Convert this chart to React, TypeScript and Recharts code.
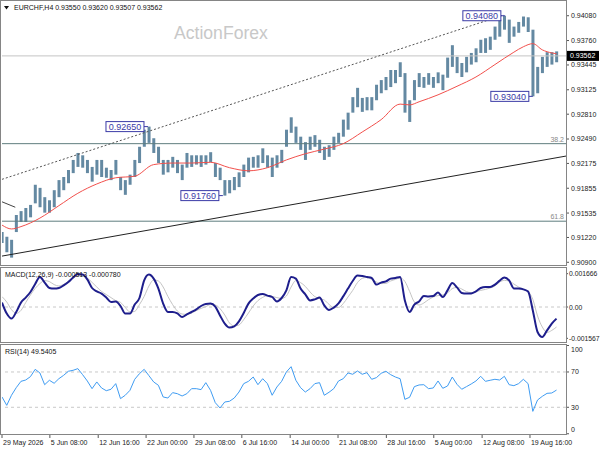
import { ComposedChart, Bar, Line, XAxis, YAxis, ReferenceLine, ReferenceDot } from "recharts";

const FONT = "'Liberation Sans', Arial, sans-serif";

// EURCHF H4, sampled about every 4-5 bars (high / low of each sample)
const priceHigh = [
  0.9129, 0.9123, 0.9119, 0.9151, 0.9156, 0.916, 0.9164, 0.919, 0.9186, 0.9174,
  0.917, 0.9183, 0.9196, 0.92, 0.9209, 0.9222, 0.9231, 0.9228, 0.9222, 0.9213,
  0.9222, 0.9222, 0.9212, 0.9209, 0.9222, 0.92, 0.9196, 0.9203, 0.9222, 0.9239,
  0.9261, 0.9265, 0.925, 0.9239, 0.9222, 0.9222, 0.9226, 0.9222, 0.9216, 0.9231,
  0.9228, 0.9228, 0.9228, 0.9228, 0.9232, 0.9218, 0.9212, 0.9196, 0.9196, 0.92,
  0.9206, 0.9216, 0.9225, 0.9226, 0.9228, 0.9237, 0.9228, 0.9225, 0.9228, 0.9235,
  0.9261, 0.9277, 0.9265, 0.9252, 0.9245, 0.9252, 0.9254, 0.9248, 0.9239, 0.9241,
  0.9252, 0.9257, 0.9274, 0.9283, 0.9303, 0.9315, 0.9302, 0.9303, 0.9303, 0.9319,
  0.9325, 0.9329, 0.9338, 0.9338, 0.9348, 0.9334, 0.9299, 0.9325, 0.9334, 0.9329,
  0.9334, 0.9329, 0.9335, 0.9332, 0.9354, 0.937, 0.9355, 0.9347, 0.9355, 0.936,
  0.9366, 0.9377, 0.9379, 0.9381, 0.9394, 0.9403, 0.9408, 0.9403, 0.9394, 0.94,
  0.9407, 0.9406, 0.939, 0.9342, 0.9355, 0.9361, 0.9361, 0.9362,
];
const priceLow = [
  0.9115, 0.9103, 0.9096, 0.9129, 0.9142, 0.9142, 0.9148, 0.9166, 0.9161, 0.9154,
  0.9154, 0.9161, 0.9174, 0.9183, 0.9192, 0.9205, 0.9213, 0.9212, 0.9205, 0.9194,
  0.9203, 0.92, 0.9199, 0.9196, 0.9203, 0.9183, 0.9177, 0.919, 0.92, 0.9218,
  0.9239, 0.9244, 0.9231, 0.9218, 0.9203, 0.9206, 0.9212, 0.9205, 0.9196, 0.9212,
  0.9213, 0.9216, 0.9213, 0.9216, 0.9219, 0.92, 0.9196, 0.9176, 0.9179, 0.9183,
  0.9187, 0.92, 0.9206, 0.9212, 0.9212, 0.9218, 0.9212, 0.92, 0.9212, 0.9218,
  0.9239, 0.9257, 0.9244, 0.9235, 0.9222, 0.9235, 0.9239, 0.9231, 0.9222, 0.9226,
  0.9235, 0.9244, 0.9252, 0.9261, 0.9283, 0.929, 0.9284, 0.9286, 0.9286, 0.9299,
  0.9308, 0.9312, 0.9316, 0.9321, 0.9329, 0.9283, 0.9271, 0.9299, 0.9316, 0.9315,
  0.9319, 0.9315, 0.9321, 0.9312, 0.9328, 0.9342, 0.9334, 0.9329, 0.9335, 0.9345,
  0.9348, 0.936, 0.936, 0.9364, 0.9377, 0.9381, 0.939, 0.9373, 0.9381, 0.9386,
  0.9394, 0.9387, 0.9304, 0.9308, 0.9334, 0.9342, 0.9345, 0.9348,
];

// red moving average, read at some of the samples
const maIndex = [0, 2, 4, 8, 12, 16, 20, 24, 28, 32, 36, 40, 44, 48, 52, 56, 60, 64, 68, 72, 76, 80, 84, 86, 88, 92, 96, 100, 104, 108, 110, 112, 114, 116, 117];
const maValue = [
  0.9138, 0.9133, 0.9136, 0.9147, 0.9163, 0.9179, 0.9191, 0.9199, 0.9201, 0.9216,
  0.9218, 0.9218, 0.9219, 0.9212, 0.9208, 0.9212, 0.9222, 0.923, 0.9236, 0.9243,
  0.9258, 0.9274, 0.9294, 0.9293, 0.9297, 0.9306, 0.9317, 0.9329, 0.9345, 0.9361,
  0.9368, 0.9372, 0.9364, 0.936, 0.9359,
];

const macdLine = [
  0.00022, -0.00033, -0.00058, -0.00025, 0.00022, 0.00047, 0.00075, 0.00115, 0.0015, 0.00122,
  0.00095, 0.00092, 0.00095, 0.00108, 0.00125, 0.00147, 0.00165, 0.00163, 0.00138, 0.00095,
  0.00078, 0.00067, 0.00047, 0.00025, 0.00027, 0.00005, -0.00033, -0.00033, 0.00012, 0.00045,
  0.00133, 0.00162, 0.00142, 0.00092, 0.00017, -0.00025, -0.00025, -0.00032, -0.0005, -0.00037,
  -0.00025, -0.00012, 0.00005, 0.00015, 0.00017, 0.00002, -0.00042, -0.00083, -0.00103, -0.00097,
  -0.00072, -0.0003, 0.00017, 0.00042, 0.0006, 0.00065, 0.00057, 0.0005, 0.00028, 0.00045,
  0.00083, 0.0015, 0.00142, 0.00092, 0.00063, 0.00033, 0.00038, 0.00047, 0.00008, -0.00015,
  -0.00003, 0.00018, 0.00053, 0.00092, 0.0013, 0.00157, 0.00155, 0.0015, 0.00145, 0.00112,
  0.00122, 0.00128, 0.00142, 0.00145, 0.0015, 0.00033, -0.00025, 0.00012, 0.00028, 0.00055,
  0.00053, 0.00055, 0.00072, 0.0005, 0.00083, 0.0012, 0.00098, 0.0007, 0.00067, 0.00068,
  0.00078, 0.00095, 0.001, 0.001, 0.00112, 0.00132, 0.00148, 0.00133, 0.00093, 0.00092,
  0.00088, 0.00077, -0.00017, -0.00125, -0.0015, -0.00117, -0.00083, -0.00058,
];
const signalLine = [
  0.00052, 0.00025, -0.00013, -0.00032, -0.00017, 0.00022, 0.0006, 0.00093, 0.00117, 0.00132,
  0.00127, 0.00112, 0.00105, 0.00113, 0.00128, 0.00143, 0.00157, 0.00158, 0.00145, 0.00123,
  0.001, 0.00078, 0.00062, 0.00047, 0.00032, 0.00023, -0.00002, -0.00025, -0.00022, 0.00012,
  0.00053, 0.00105, 0.00135, 0.0013, 0.001, 0.00053, 0.00012, -0.0002, -0.00035, -0.00037,
  -0.0003, -0.00018, -0.00007, 0.00002, 0.00012, 0.0001, -0.00008, -0.0004, -0.0008, -0.00095,
  -0.0009, -0.00063, -0.0003, 0.00005, 0.00032, 0.00048, 0.00057, 0.00053, 0.00047, 0.00043,
  0.00055, 0.001, 0.00132, 0.00122, 0.00103, 0.00075, 0.00052, 0.00042, 0.00035, 0.00013,
  -0.00002, -0.00002, 0.00017, 0.0005, 0.00083, 0.00122, 0.00143, 0.00148, 0.00138, 0.00125,
  0.00117, 0.00118, 0.0013, 0.00138, 0.00145, 0.00128, 0.00078, 0.00025, 0.0001, 0.0002,
  0.00037, 0.0005, 0.00057, 0.0006, 0.0007, 0.00092, 0.00098, 0.0009, 0.00077, 0.00072,
  0.00077, 0.00083, 0.00088, 0.00095, 0.00105, 0.00125, 0.00133, 0.0013, 0.00115, 0.001,
  0.00088, 0.00077, 0.00038, -0.00045, -0.001, -0.00127, -0.00117, -0.001,
];
const rsiLine = [
  41.7, 32.2, 43.6, 52.2, 59.4, 60.9, 64.7, 73.0, 68.9, 55.6,
  60.6, 57.2, 62.4, 66.2, 70.8, 71.9, 73.8, 67.0, 59.8, 51.1,
  58.7, 51.9, 48.8, 50.4, 56.8, 39.8, 43.6, 49.2, 61.7, 68.1,
  73.0, 65.8, 58.7, 54.9, 41.7, 40.5, 46.6, 45.4, 42.8, 45.4,
  51.1, 51.1, 50.0, 57.9, 49.2, 35.2, 29.2, 36.0, 36.8, 40.5,
  47.3, 56.8, 59.4, 64.3, 55.6, 62.4, 56.8, 43.6, 53.0, 59.4,
  70.0, 76.0, 60.6, 52.2, 47.3, 51.1, 56.8, 57.9, 43.6, 47.0,
  51.1, 59.8, 62.4, 68.9, 67.4, 71.1, 67.4, 69.2, 61.7, 63.6,
  68.5, 70.8, 67.0, 64.3, 62.4, 39.0, 41.3, 53.4, 55.3, 55.6,
  51.1, 51.9, 59.8, 51.5, 54.1, 64.3, 56.0, 50.4, 53.4, 56.4,
  59.8, 65.1, 59.4, 60.6, 61.7, 60.9, 65.1, 55.6, 54.5, 56.8,
  61.7, 56.8, 25.4, 38.3, 42.4, 45.8, 46.2, 49.5,
];

const timeTicks = [0, 10.1, 20.3, 30.4, 40.5, 50.6, 60.8, 70.9, 81.1, 91.1, 101.3, 111.4];
const timeLabels = [
  "29 May 2026", "5 Jun 08:00", "12 Jun 16:00", "22 Jun 00:00", "29 Jun 08:00", "6 Jul 16:00",
  "14 Jul 00:00", "21 Jul 08:00", "28 Jul 16:00", "5 Aug 00:00", "12 Aug 08:00", "19 Aug 16:00",
];
const priceTicks = [0.9408, 0.9376, 0.93445, 0.93125, 0.9281, 0.9249, 0.92175, 0.91855, 0.91535, 0.9122, 0.909];
const macdTicks = [0.001666, 0, -0.001567];
const macdTickLabels = ["0.001666", "0.00", "-0.001567"];
const rsiTicks = [100, 70, 30, 0];
const rsiLevels = [70, 30];

const lastPrice = 0.93562;
const fibLevels = [
  { name: "38.2", price: 0.9243 },
  { name: "61.8", price: 0.9143 },
];
const swingTags = [
  { i: 30.8, price: 0.9265 },
  { i: 46.6, price: 0.9176 },
  { i: 106.1, price: 0.9408 },
  { i: 112.0, price: 0.9304 },
];
const channelTop = [{ x: 0, y: 0.9197 }, { x: 105.9, y: 0.9409 }];
const trendBottom = [{ x: 0, y: 0.9098 }, { x: 119, y: 0.9227 }];
const oldTrend = [{ x: 0, y: 0.9168 }, { x: 2.8, y: 0.9161 }];

const maAt = new Map(maIndex.map((k, n) => [k, maValue[n]]));
const rows = priceHigh.map((hi, i) => ({
  i,
  hi,
  lo: priceLow[i],
  ma: maAt.has(i) ? maAt.get(i) : null,
  macd: macdLine[i],
  signal: signalLine[i],
  rsi: rsiLine[i],
}));

const X_DOMAIN = [0, 119];
const axisTick = { fontSize: 7, fill: "#222", fontFamily: FONT };
const TAG = "#3a3aa6";

function PriceTag(props: any) {
  const { cx, cy, text } = props;
  const w = 38;
  const right = cx - 4;
  return (
    <g>
      <line x1={right} y1={cy} x2={cx} y2={cy} stroke={TAG} strokeWidth={1} />
      <rect x={right - w} y={cy - 5} width={w} height={10} fill="#fff" stroke={TAG} strokeWidth={1} />
      <text x={right - w / 2} y={cy + 3.3} textAnchor="middle" fontSize={9} fill={TAG} fontFamily={FONT}>
        {text}
      </text>
    </g>
  );
}

function CurrentTag(props: any) {
  const vb = props.viewBox;
  if (!vb) return null;
  const x = vb.x + vb.width + 1;
  return (
    <g>
      <rect x={x} y={vb.y - 5} width={32} height={10} fill="#000" />
      <text x={x + 3} y={vb.y + 2.6} fontSize={7} fill="#fff" fontFamily={FONT}>
        {lastPrice.toFixed(5)}
      </text>
    </g>
  );
}

function fibLabel(name: string) {
  return (props: any) => {
    const vb = props.viewBox;
    if (!vb) return null;
    return (
      <text x={vb.x + vb.width - 2} y={vb.y - 2} textAnchor="end" fontSize={7} fill="#888" fontFamily={FONT}>
        {name}
      </text>
    );
  };
}

function TimeTick(props: any) {
  const { x, y, payload } = props;
  const k = timeTicks.indexOf(payload.value);
  return (
    <text x={x + 1} y={y + 4.5} fontSize={7} fill="#222" fontFamily={FONT}>
      {timeLabels[k]}
    </text>
  );
}

function MacdTick(props: any) {
  const { x, y, payload } = props;
  const k = macdTicks.indexOf(payload.value);
  return (
    <text x={x - 1} y={y + 2.5} fontSize={6.8} fill="#222" fontFamily={FONT}>
      {macdTickLabels[k]}
    </text>
  );
}

// edge labels of the RSI scale are kept inside the panel, as on the terminal
function RsiTick(props: any) {
  const { x, y, payload } = props;
  const shift = payload.value === 100 ? 3.5 : payload.value === 0 ? -4 : 0;
  return (
    <text x={x} y={y + 2.5 + shift} fontSize={7} fill="#222" fontFamily={FONT}>
      {payload.value}
    </text>
  );
}

const frame = (top: number, height: number) => ({
  position: "absolute" as const,
  left: 0,
  top,
  width: 567,
  height,
  boxSizing: "border-box" as const,
  border: "1px solid #858585",
  pointerEvents: "none" as const,
});

export default function App() {
  return (
    <div style={{ position: "relative", width: 600, height: 450, background: "#fff", overflow: "hidden", fontFamily: FONT }}>
      <style>{"body{margin:0}"}</style>

      <div style={{ position: "absolute", left: 0, top: 0 }}>
        <ComposedChart width={600} height={266} data={rows} margin={{ top: 1, right: 0, bottom: 1, left: 2 }}>
          <XAxis type="number" dataKey="i" domain={X_DOMAIN} hide allowDataOverflow />
          <YAxis
            orientation="right"
            width={34}
            domain={[0.90865, 0.9427]}
            ticks={priceTicks}
            interval={0}
            allowDataOverflow
            axisLine={false}
            tickSize={3}
            tickLine={{ stroke: "#555" }}
            tick={axisTick}
            tickFormatter={(v: number) => v.toFixed(5)}
          />
          <ReferenceLine y={lastPrice} stroke="#c4c4c4" label={CurrentTag} />
          {fibLevels.map((f) => (
            <ReferenceLine key={f.name} y={f.price} stroke="#5f7d7e" label={fibLabel(f.name)} />
          ))}
          <ReferenceLine segment={channelTop} stroke="#555" strokeDasharray="2 2" />
          <ReferenceLine segment={trendBottom} stroke="#222" />
          <ReferenceLine segment={oldTrend} stroke="#444" />
          <Bar dataKey={(d: any) => [d.lo, d.hi]} barSize={3} fill="#6489a2" isAnimationActive={false} />
          <Line
            dataKey="ma"
            type="monotone"
            stroke="#f2504c"
            strokeWidth={1}
            dot={false}
            connectNulls
            isAnimationActive={false}
          />
          {swingTags.map((t) => (
            <ReferenceDot
              key={t.i}
              x={t.i}
              y={t.price}
              r={0}
              ifOverflow="visible"
              shape={(p: any) => <PriceTag {...p} text={t.price.toFixed(5)} />}
            />
          ))}
        </ComposedChart>
      </div>

      <div style={{ position: "absolute", left: 0, top: 267 }}>
        <ComposedChart width={600} height={76} data={rows} margin={{ top: 0, right: 0, bottom: 0, left: 2 }}>
          <XAxis type="number" dataKey="i" domain={X_DOMAIN} hide allowDataOverflow />
          <YAxis
            orientation="right"
            width={34}
            domain={[-0.0018, 0.002]}
            ticks={macdTicks}
            interval={0}
            allowDataOverflow
            axisLine={false}
            tickSize={2}
            tickLine={{ stroke: "#555" }}
            tick={MacdTick}
          />
          <ReferenceLine y={0} stroke="#c8c8c8" strokeDasharray="3 3" />
          <Line dataKey="signal" type="monotone" stroke="#c4c4c4" strokeWidth={1} dot={false} isAnimationActive={false} />
          <Line dataKey="macd" type="monotone" stroke="#1e1e8c" strokeWidth={2} dot={false} isAnimationActive={false} />
        </ComposedChart>
      </div>

      <div style={{ position: "absolute", left: 0, top: 344 }}>
        <ComposedChart width={600} height={106} data={rows} margin={{ top: 0, right: 0, bottom: 0, left: 2 }}>
          <XAxis
            type="number"
            dataKey="i"
            domain={X_DOMAIN}
            ticks={timeTicks}
            interval={0}
            allowDataOverflow
            height={15}
            axisLine={false}
            tickSize={3}
            tickLine={{ stroke: "#555" }}
            tick={TimeTick}
          />
          <YAxis
            orientation="right"
            width={34}
            domain={[-1.4, 101.7]}
            ticks={rsiTicks}
            interval={0}
            allowDataOverflow
            axisLine={false}
            tickSize={3}
            tickLine={{ stroke: "#555" }}
            tick={RsiTick}
          />
          {rsiLevels.map((lv) => (
            <ReferenceLine key={lv} y={lv} stroke="#c8c8c8" strokeDasharray="3 3" />
          ))}
          <Line dataKey="rsi" type="linear" stroke="#3f9cf2" strokeWidth={1} dot={false} isAnimationActive={false} />
        </ComposedChart>
      </div>

      <div style={frame(0, 266)} />
      <div style={frame(267, 76)} />
      <div style={frame(344, 91)} />

      <svg width={600} height={450} style={{ position: "absolute", left: 0, top: 0, pointerEvents: "none" }}>
        <polygon points="4,6 9,6 6.5,9.5" fill="#111" />
        <text x={14} y={10} fontSize={7} fill="#111" fontFamily={FONT}>
          EURCHF,H4  0.93550 0.93620 0.93507 0.93562
        </text>
        <text x={174} y={39} fontSize={17.6} fill="#c8c8c8" fontFamily={FONT}>
          ActionForex
        </text>
        <text x={5} y={277} fontSize={7} fill="#111" fontFamily={FONT}>
          MACD(12,26,9) -0.000513 -0.000780
        </text>
        <text x={5} y={353.5} fontSize={7} fill="#111" fontFamily={FONT}>
          RSI(14) 49.5405
        </text>
      </svg>
    </div>
  );
}
